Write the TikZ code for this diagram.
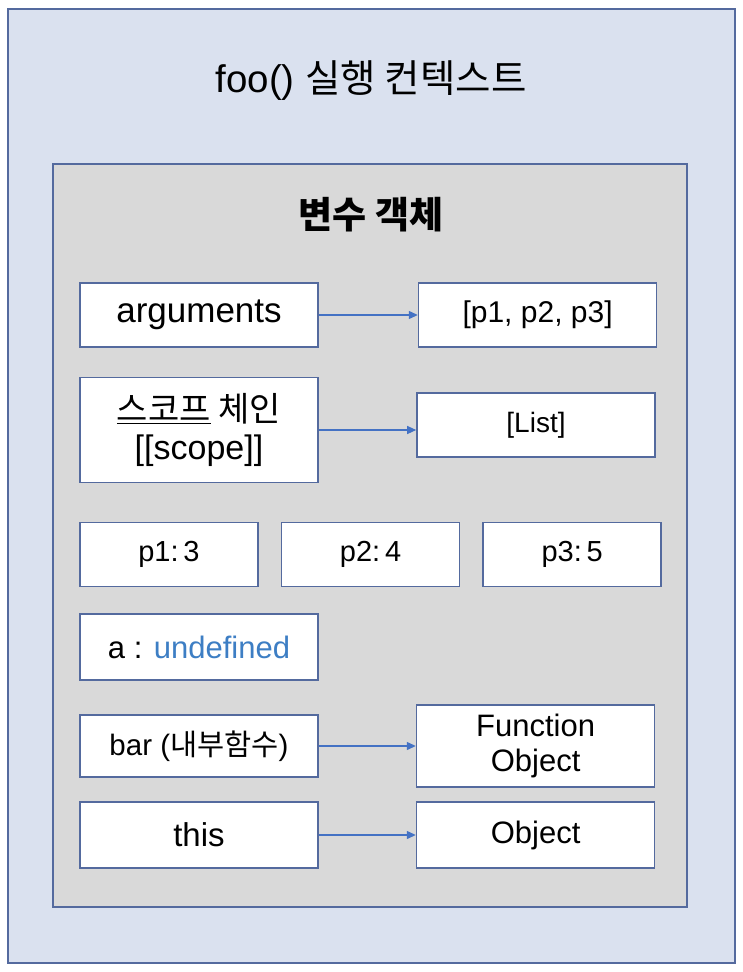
\documentclass[tikz,border=0pt]{standalone}
\usepackage{fontspec}
\setmainfont{Liberation Sans}
\newfontfamily\krfont{Noto Sans CJK KR}
\usetikzlibrary{arrows.meta, positioning}

\definecolor{ctxfill}{RGB}{218,225,239}
\definecolor{ctxline}{RGB}{84,106,158}
\definecolor{varfill}{RGB}{217,217,217}
\definecolor{linkblue}{RGB}{68,114,196}
\definecolor{undefblue}{RGB}{61,126,196}

\newcommand{\fsz}[1]{\fontsize{#1}{1.15\dimexpr#1pt\relax}\selectfont}

\begin{document}
\begin{tikzpicture}[
  x=1pt, y=-1pt,
  % --- styles ------------------------------------------------------------
  frame/.style={draw=ctxline, line width=1.6pt},
  box/.style={
    rectangle, draw=ctxline, line width=1.6pt, fill=white,
    minimum width=238pt, minimum height=64pt, inner sep=2pt,
    font=\fsz{31}, align=center
  },
  smallbox/.style={box, minimum width=178pt, font=\fsz{29}},
  link/.style={-{Triangle[length=9pt, width=8pt]}, linkblue, line width=1.2pt},
  node distance = 22pt and 99pt
]
\useasboundingbox[fill=white] (0,0) rectangle (742,972);

% --------------------- frames -------------------------------------------
\draw[frame, fill=ctxfill] (8,9) rectangle (735,963);
\draw[frame, fill=varfill] (53,164) rectangle (687,907);

\node[font=\fsz{38.5}] (ctxtitle) at (371,81)
  {foo() {\krfont 실행 컨텍스트}};
\node[font=\krfont\bfseries\fsz{37}] (vartitle) at (371,215)
  {변수 객체};

% --------------------- left column --------------------------------------
\node[box, font=\fsz{35}] (args) at (199,315) {arguments};
\node[box, minimum height=105pt, font=\fsz{34}] (scope) at (199,430)
  {{\krfont\underline{스코프} 체인}\\[-1pt][[scope]]};
\node[smallbox] (p1) at (169,554.5) {p1:\,3};
\node[smallbox, right=22pt of p1] (p2) {p2:\,4};
\node[smallbox, right=22pt of p2] (p3) {p3:\,5};
\node[box, minimum height=66pt] (avar) at (199,647)
  {a : \textcolor{undefblue}{undefined}};
\node[box, minimum height=62pt, font=\fsz{29.5}] (bar) at (199,746)
  {bar ({\krfont 내부함수})};
\node[box, minimum height=66pt, font=\fsz{33}] (this) at (199,835) {this};

% --------------------- right column -------------------------------------
\node[box, right=99pt of args, font=\fsz{30}] (argval) {[p1, p2, p3]};
\node[box, font=\fsz{28}] (list) at (536,425) {[List]};
\node[box, minimum height=82pt, right=97pt of bar, font=\fsz{31}] (funcobj)
  {Function\\Object};
\node[box, minimum height=66pt, right=97pt of this] (obj) {Object};

% --------------------- links --------------------------------------------
\draw[link] (args) -- (argval);
\draw[link] (scope.east) -- (scope.east -| list.west);
\draw[link] (bar) -- (funcobj);
\draw[link] (this) -- (obj);

\end{tikzpicture}
\end{document}
